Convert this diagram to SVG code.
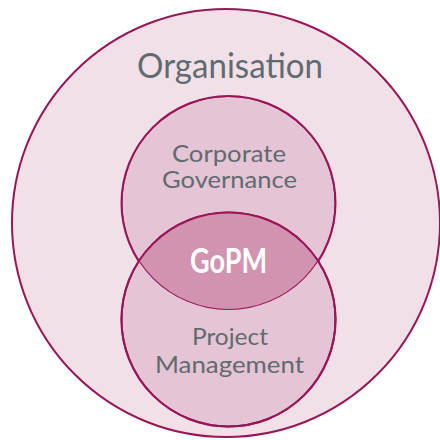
<svg xmlns="http://www.w3.org/2000/svg" width="440" height="440" viewBox="0 0 440 440">
<style>
.c{stroke:#9a1558;stroke-width:2}
.lbl{font-family:Lato,"Open Sans","Liberation Sans",sans-serif;fill:#5f6b6e;text-anchor:middle}
</style>
<defs>
<clipPath id="clipTop"><circle cx="228.5" cy="203" r="107"/></clipPath>
</defs>
<rect width="440" height="440" fill="#ffffff"/>
<g id="organisation">
<circle class="c" cx="226" cy="223" r="214" fill="#f2e0e8"/>
<text class="lbl" x="230" y="78" font-size="34" textLength="186" lengthAdjust="spacingAndGlyphs">Organisation</text>
</g>
<g id="corporate-governance">
<circle class="c" cx="228.5" cy="203" r="107" fill="#e5c4d5"/>
<text class="lbl" x="229" y="162" font-size="23" textLength="114" lengthAdjust="spacingAndGlyphs">Corporate</text>
<text class="lbl" x="229.5" y="188" font-size="23" textLength="135" lengthAdjust="spacingAndGlyphs">Governance</text>
</g>
<g id="project-management">
<circle class="c" cx="228.5" cy="319.5" r="107" fill="#e5c4d5"/>
<text class="lbl" x="230" y="345" font-size="23" textLength="76" lengthAdjust="spacingAndGlyphs">Project</text>
<text class="lbl" x="229.5" y="373" font-size="23" textLength="149" lengthAdjust="spacingAndGlyphs">Management</text>
</g>
<g id="gopm">
<circle cx="228.5" cy="319.5" r="107" fill="#d193b0" clip-path="url(#clipTop)"/>
<circle cx="228.5" cy="203" r="107" fill="none" class="c" clip-path="url(#clipTop)"/>
<circle cx="228.5" cy="319.5" r="107" fill="none" class="c"/>
<text x="228.5" y="273" font-family="Lato,Open Sans,Liberation Sans,sans-serif" font-weight="bold" font-size="34" fill="#ffffff" text-anchor="middle" textLength="77" lengthAdjust="spacingAndGlyphs">GoPM</text>
</g>
</svg>
